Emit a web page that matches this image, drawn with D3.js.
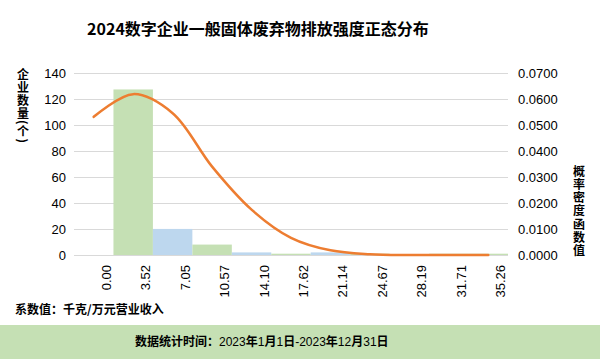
<!DOCTYPE html>
<html><head><meta charset="utf-8">
<script src="https://cdn.jsdelivr.net/npm/d3@7"></script>
<style>
html,body{margin:0;padding:0;background:#fff;}
svg{display:block;}
</style></head>
<body>
<svg id="chart" width="600" height="359"></svg>
<script>
const categories = ["0.00","3.52","7.05","10.57","14.10","17.62","21.14","24.67","28.19","31.71","35.26"];
const counts = [0,127,20,8,2,1,2,1,0,1,1];
const barColors = ["#c5e0b4","#c5e0b4","#bdd7ee","#c5e0b4","#bdd7ee","#c5e0b4","#bdd7ee","#c5e0b4","#bdd7ee","#c5e0b4","#c5e0b4"];
const density = [0.0530,0.0617,0.0544,0.0339,0.0174,0.0066,0.0018,0.0003,0.0000,0.0000,0.0000];
const leftTicks = [0,20,40,60,80,100,120,140];
const rightTicks = [0,0.01,0.02,0.03,0.04,0.05,0.06,0.07];
const leftTitle = "企业数量(个)";
const rightTitle = "概率密度函数值";

const svg = d3.select("#chart");
const L = 74, R = 508, T = 72.5, B = 255;
const latin = "'Liberation Sans', Arial, 'Noto Sans CJK SC', sans-serif";
const cjk = "'Noto Sans CJK SC', 'Liberation Sans', sans-serif";

const x = d3.scaleBand().domain(categories).range([L, R]).padding(0);
const yL = d3.scaleLinear().domain([0, 140]).range([B, T]);
const yR = d3.scaleLinear().domain([0, 0.07]).range([B, T]);

// title
svg.append("text").attr("x", 258).attr("y", 35).attr("text-anchor", "middle")
  .attr("font-family", cjk).attr("font-weight", "bold").attr("font-size", 16)
  .attr("fill", "#000").text("2024数字企业一般固体废弃物排放强度正态分布");

// gridlines
svg.append("g").selectAll("line").data(leftTicks).join("line")
  .attr("x1", L).attr("x2", R)
  .attr("y1", d => Math.round(yL(d)) + 0.5).attr("y2", d => Math.round(yL(d)) + 0.5)
  .attr("stroke", "#d9d9d9").attr("stroke-width", 1);

// bars
svg.append("g").selectAll("rect").data(counts).join("rect")
  .attr("x", (d, i) => x(categories[i]))
  .attr("width", x.bandwidth())
  .attr("y", d => yL(d))
  .attr("height", d => B - yL(d))
  .attr("fill", (d, i) => barColors[i]);

// density line
const line = d3.line()
  .x((d, i) => x(categories[i]) + x.bandwidth() / 2)
  .y(d => yR(d))
  .curve(d3.curveCatmullRom.alpha(0.5));
svg.append("path").datum(density).attr("d", line)
  .attr("fill", "none").attr("stroke", "#ed7d31").attr("stroke-width", 2.5)
  .attr("stroke-linecap", "round");

// left axis
const axL = d3.axisLeft(yL).tickValues(leftTicks).tickSize(0).tickPadding(0);
const gL = svg.append("g").attr("transform", `translate(66,0)`).call(axL);
gL.select(".domain").remove();
gL.selectAll("text").attr("font-family", latin).attr("font-size", 13).attr("fill", "#000").attr("dy", "0.35em");

// right axis
const axR = d3.axisRight(yR).tickValues(rightTicks).tickSize(0).tickPadding(0).tickFormat(d3.format(".4f"));
const gR = svg.append("g").attr("transform", `translate(518,0)`).call(axR);
gR.select(".domain").remove();
gR.selectAll("text").attr("font-family", latin).attr("font-size", 13).attr("fill", "#000").attr("dy", "0.35em");

// category labels (rotated)
const axB = d3.axisBottom(x).tickSize(0).tickPadding(0);
const gB = svg.append("g").call(axB);
gB.select(".domain").remove();
gB.selectAll(".tick").attr("transform", d => `translate(${x(d) + x.bandwidth() / 2 + 17},265)`);
gB.selectAll("text").attr("font-family", latin).attr("font-size", 13).attr("fill", "#000")
  .attr("transform", "rotate(-90)").attr("text-anchor", "end").attr("x", 0).attr("y", 0).attr("dy", 0);

// axis titles: vertical writing mode, single text each
svg.append("text").attr("x", 23).attr("y", 68)
  .attr("font-family", cjk).attr("font-weight", "bold").attr("font-size", 12)
  .style("writing-mode", "vertical-rl").style("letter-spacing", "1px")
  .attr("fill", "#000").text(leftTitle);
svg.append("text").attr("x", 579).attr("y", 165)
  .attr("font-family", cjk).attr("font-weight", "bold").attr("font-size", 12)
  .style("writing-mode", "vertical-rl").style("letter-spacing", "1.3px")
  .attr("fill", "#000").text(rightTitle);

// unit note
svg.append("text").attr("x", 15).attr("y", 314)
  .attr("font-family", cjk).attr("font-weight", "bold").attr("font-size", 12)
  .attr("fill", "#000").text("系数值：千克/万元营业收入");

// footer
svg.append("rect").attr("x", 0).attr("y", 325).attr("width", 600).attr("height", 34).attr("fill", "#c5e0b4");
const ft = svg.append("text").attr("x", 135).attr("y", 346).attr("font-size", 12).attr("fill", "#000");
const parts = [["数据统计时间：", true], ["2023", false], ["年", true], ["1", false], ["月", true], ["1", false], ["日", true], ["-2023", false], ["年", true], ["12", false], ["月", true], ["31", false], ["日", true]];
ft.selectAll("tspan").data(parts).join("tspan")
  .attr("font-family", d => d[1] ? cjk : latin)
  .attr("font-weight", d => d[1] ? "bold" : "normal")
  .text(d => d[0]);
</script>
</body></html>
